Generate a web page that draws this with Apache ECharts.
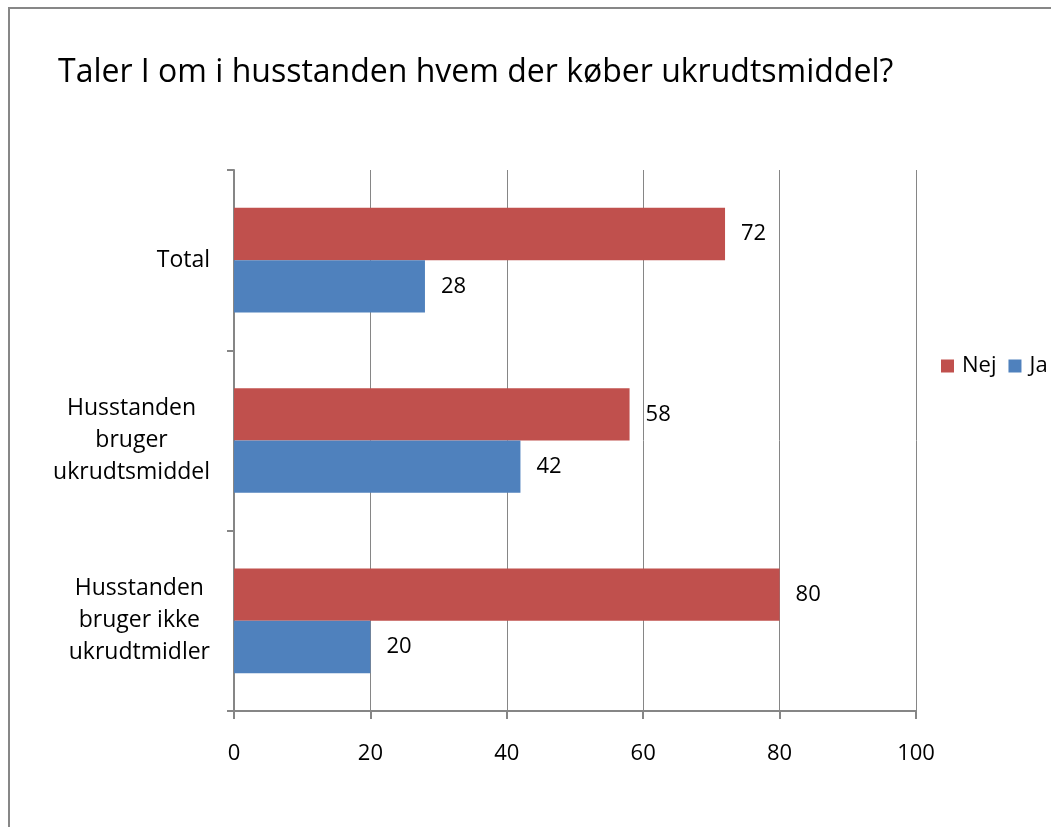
<!DOCTYPE html>
<html>
<head>
<meta charset="utf-8">
<script src="https://cdn.jsdelivr.net/npm/echarts@6/dist/echarts.min.js"></script>
<style>
  html, body { margin: 0; padding: 0; background: #ffffff; overflow: hidden; }
  #frame {
    position: absolute; left: 8px; top: 7px;
    width: 1200px; height: 1000px;
    border-left: 2px solid #878787; border-top: 2px solid #878787;
  }
  #chart { position: absolute; left: 0; top: 0; width: 1051px; height: 827px; }
</style>
</head>
<body>
<div id="frame"></div>
<div id="chart"></div>
<script>
// kategorier (oppefra og ned)
var categories = [
  "Total",
  "Husstanden\nbruger\nukrudtsmiddel",
  "Husstanden\nbruger ikke\nukrudtmidler"
];
var nejValues = [72, 58, 80];
var jaValues = [28, 42, 20];
var xTicks = [0, 20, 40, 60, 80, 100];

var font = "Open Sans";
var chart = echarts.init(document.getElementById("chart"));

var option = {
  animation: false,
  title: {
    text: "Taler I om i husstanden hvem der køber ukrudtsmiddel?",
    left: 53,
    top: 52,
    textStyle: { fontFamily: font, fontSize: 32, fontWeight: "normal", color: "#000" }
  },
  legend: {
    data: ["Nej", "Ja"],
    orient: "horizontal",
    left: 936,
    top: 350,
    width: 300,
    itemWidth: 13,
    itemHeight: 13,
    itemGap: 12,
    icon: "rect",
    textStyle: { fontFamily: font, fontSize: 22, color: "#000", padding: [0, 0, 0, 3] }
  },
  grid: { left: 234, right: 135, top: 170, bottom: 116, containLabel: false },
  xAxis: {
    type: "value",
    min: xTicks[0],
    max: xTicks[xTicks.length - 1],
    interval: 20,
    axisLine: { show: true, lineStyle: { color: "#868686", width: 2 } },
    axisTick: { show: true, length: 8, lineStyle: { color: "#868686", width: 2 } },
    splitLine: { show: true, lineStyle: { color: "#868686", width: 1 } },
    axisLabel: { fontFamily: font, fontSize: 22, color: "#000", margin: 32 }
  },
  yAxis: {
    type: "category",
    inverse: true,
    data: categories,
    axisLine: { show: true, lineStyle: { color: "#868686", width: 2 } },
    axisTick: { show: true, length: 7, lineStyle: { color: "#868686", width: 2 } },
    axisLabel: {
      fontFamily: font, fontSize: 23, color: "#000", margin: 24,
      align: "right",
      formatter: function (v) {
        return v.split("\n").map(function (l) { return "{c|" + l + "}"; }).join("\n");
      },
      rich: { c: { fontFamily: font, fontSize: 23, color: "#000", align: "center", lineHeight: 32 } }
    }
  },
  series: [
    {
      name: "Nej",
      type: "bar",
      data: nejValues,
      barGap: "0%",
      barCategoryGap: "42%",
      itemStyle: { color: "#C0504D" },
      label: { show: true, position: "right", distance: 16, fontFamily: font, fontSize: 22, color: "#000" }
    },
    {
      name: "Ja",
      type: "bar",
      data: jaValues,
      barGap: "0%",
      barCategoryGap: "42%",
      itemStyle: { color: "#4F81BD" },
      label: { show: true, position: "right", distance: 16, fontFamily: font, fontSize: 22, color: "#000" }
    }
  ]
};
chart.setOption(option);
</script>
</body>
</html>
